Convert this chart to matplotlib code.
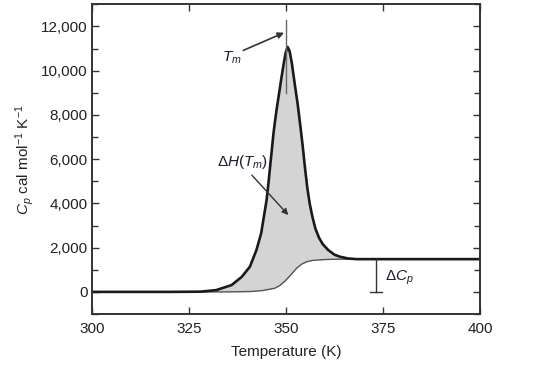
import matplotlib
matplotlib.use("Agg")
import matplotlib.pyplot as plt
from matplotlib.ticker import MultipleLocator, FuncFormatter
import numpy as np

plt.rcParams['font.family'] = ['Liberation Sans', 'DejaVu Sans']
plt.rcParams['mathtext.fontset'] = 'custom'
plt.rcParams['mathtext.rm'] = 'Liberation Sans'
plt.rcParams['mathtext.it'] = 'Liberation Sans:italic'

# Total heat capacity curve (upper)
temp_upper = [300, 320, 328, 332, 336, 338.6, 340.7, 342.4, 343.6, 344.3, 345, 345.5,
              346.1, 346.8, 347.5, 348.2, 348.8, 349.4, 349.9, 350.4, 350.9, 351.5,
              352.3, 353, 353.7, 354.3, 354.9, 355.5, 356.1, 356.8, 357.6, 358.5,
              359.5, 360.9, 362.5, 363.9, 366, 368.2, 400]
cp_upper = [0, 0, 10, 80, 310, 680, 1140, 1900, 2650, 3400, 4150, 4950,
            6000, 7200, 8150, 8950, 9650, 10300, 10800, 11070, 10900, 10350,
            9340, 8500, 7500, 6600, 5600, 4700, 4000, 3400, 2850, 2450,
            2150, 1890, 1680, 1590, 1510, 1480, 1480]

# Baseline (lower)
temp_lower = [300, 335, 340.7, 344, 347.2, 348.5, 349.7, 351.5, 352.8, 354, 355.3,
              356.8, 358.8, 361, 363.9, 400]
cp_lower = [0, 0, 15, 60, 170, 300, 480, 820, 1080, 1250, 1360,
            1420, 1450, 1468, 1478, 1480]

x_ticks = [300, 325, 350, 375, 400]
y_ticks = [0, 2000, 4000, 6000, 8000, 10000, 12000]

tm_value = 350
delta_cp = 1480

fig = plt.figure(figsize=(5.39, 3.87), dpi=100)
ax = fig.add_axes([0.1707, 0.1886, 0.7198, 0.8004])

# fill between curves
grid_t = np.union1d(temp_upper, temp_lower)
up_i = np.interp(grid_t, temp_upper, cp_upper)
lo_i = np.interp(grid_t, temp_lower, cp_lower)
ax.fill_between(grid_t, lo_i, up_i, color='#d4d4d4', lw=0)

ax.plot(temp_lower, cp_lower, color='#555555', lw=1.0)
ax.plot(temp_upper, cp_upper, color='#1a1a1a', lw=1.9, solid_joinstyle='round')

# Tm marker line
ax.plot([tm_value, tm_value], [8975, 12270], color='#666666', lw=1.0)
ax.annotate('', xy=(349.5, 11714), xytext=(339.0, 10915),
            arrowprops=dict(arrowstyle='-|>', color='#333333', lw=1.2,
                            mutation_scale=9, shrinkA=0, shrinkB=0))
ax.text(336.1, 10600, r'$T_m$', fontsize=11, color='#1c1c30', ha='center', va='center')

# Delta H annotation
ax.annotate('', xy=(350.6, 3473), xytext=(341.2, 5277),
            arrowprops=dict(arrowstyle='-|>', color='#333333', lw=1.0,
                            mutation_scale=9, shrinkA=0, shrinkB=0))
ax.text(338.7, 5860, r'$\Delta H(T_m)$', fontsize=11, color='#1c1c30', ha='center', va='center')

# Delta Cp bar
ax.plot([373.2, 373.2], [0, delta_cp], color='#333333', lw=1.0)
ax.plot([371.7, 374.7], [0, 0], color='#333333', lw=1.0)
ax.text(375.6, 630, r'$\Delta C_p$', fontsize=11, color='#1c1c30', ha='left', va='center')

ax.set_xlim(300, 400)
ax.set_ylim(-1000, 13000)
ax.set_xticks(x_ticks)
ax.set_yticks(y_ticks)
ax.yaxis.set_minor_locator(MultipleLocator(1000))
ax.yaxis.set_major_formatter(FuncFormatter(lambda v, p: f'{int(v):,}'))

ax.tick_params(axis='both', which='both', direction='in', top=True, right=True,
               color='#333333', width=1.0, labelsize=11, labelcolor='#222222')
ax.tick_params(which='major', length=5)
ax.tick_params(which='minor', length=4)
ax.tick_params(axis='x', pad=6)
ax.tick_params(axis='y', pad=3)
for s in ax.spines.values():
    s.set_linewidth(1.4)
    s.set_color('#333333')

ax.set_xlabel('Temperature (K)', fontsize=11, color='#222222', labelpad=6)
ax.set_ylabel(r'$C_p$ cal mol$^{-1}$ K$^{-1}$', fontsize=11, color='#222222', labelpad=4)

fig.savefig('out.png', dpi=100)
